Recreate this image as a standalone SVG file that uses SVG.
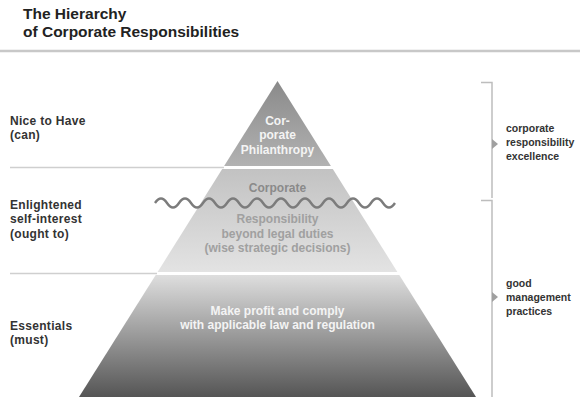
<svg xmlns="http://www.w3.org/2000/svg" width="580" height="397" viewBox="0 0 580 397">
  <defs>
    <linearGradient id="gTop" x1="0" y1="0" x2="0" y2="1">
      <stop offset="0" stop-color="#8a8a8a"/>
      <stop offset="1" stop-color="#b2b2b2"/>
    </linearGradient>
    <linearGradient id="gMid" x1="0" y1="0" x2="0" y2="1">
      <stop offset="0" stop-color="#c2c2c2"/>
      <stop offset="1" stop-color="#e3e3e3"/>
    </linearGradient>
    <linearGradient id="gBot" x1="0" y1="0" x2="0" y2="1">
      <stop offset="0" stop-color="#dedede"/>
      <stop offset="1" stop-color="#555555"/>
    </linearGradient>
  </defs>
  <style>
    text { font-family: "Liberation Sans", Arial, sans-serif; font-weight: bold; }
    .title { font-size: 15.5px; fill: #222; }
    .left { font-size: 12px; fill: #333; letter-spacing: 0.3px; }
    .right { font-size: 10.5px; fill: #333; }
    .pw { font-size: 12px; fill: #f4f4f4; text-anchor: middle; }
    .pg { font-size: 12px; fill: #a0a0a0; text-anchor: middle; }
    .pd { font-size: 12px; fill: #8a8a8a; text-anchor: middle; }
    .rule { stroke: #cfcfcf; stroke-width: 1.5; fill: none; }
    .bracket { stroke: #bdbdbd; stroke-width: 1.5; fill: none; }
    .arrow { fill: #a0a0a0; }
  </style>
  <rect width="580" height="397" fill="#ffffff"/>

  <g id="title">
    <text class="title" x="23" y="19">The Hierarchy</text>
    <text class="title" x="23" y="37">of Corporate Responsibilities</text>
    <line x1="0" y1="51" x2="580" y2="51" stroke="#c8c8c8" stroke-width="2.5"/>
  </g>

  <g id="rules">
    <line class="rule" x1="10" y1="167.5" x2="224" y2="167.5"/>
    <line class="rule" x1="10" y1="273.5" x2="157" y2="273.5"/>
  </g>

  <g id="level-top">
    <polygon points="277.5,81 330.9,166 224.1,166" fill="url(#gTop)"/>
    <text class="pw" x="277.5" y="125">Cor-</text>
    <text class="pw" x="277.5" y="139">porate</text>
    <text class="pw" x="277.5" y="154">Philanthropy</text>
  </g>

  <g id="level-middle">
    <polygon points="222.2,169 332.8,169 397.4,272 157.6,272" fill="url(#gMid)"/>
    <text class="pd" x="277.5" y="192">Corporate</text>
    <text class="pg" x="277.5" y="223">Responsibility</text>
    <text class="pg" x="277.5" y="238">beyond legal duties</text>
    <text class="pg" x="277.5" y="252">(wise strategic decisions)</text>
  </g>

  <g id="level-bottom">
    <polygon points="155.7,275 399.3,275 476,397 79,397" fill="url(#gBot)"/>
    <text class="pw" x="277.5" y="315">Make profit and comply</text>
    <text class="pw" x="277.5" y="329">with applicable law and regulation</text>
  </g>

  <g id="wave">
    <path d="M155,203 q6,-9 12,0 t12,0 t12,0 t12,0 t12,0 t12,0 t12,0 t12,0 t12,0 t12,0 t12,0 t12,0 t12,0 t12,0 t12,0 t12,0 t12,0 t12,0 t12,0 t12,0" fill="none" stroke="#7c7c7c" stroke-width="2.4"/>
  </g>

  <g id="label-nice">
    <text class="left" x="10" y="125">Nice to Have</text>
    <text class="left" x="10" y="139">(can)</text>
  </g>
  <g id="label-enlightened">
    <text class="left" x="10" y="209">Enlightened</text>
    <text class="left" x="10" y="223">self-interest</text>
    <text class="left" x="10" y="238">(ought to)</text>
  </g>
  <g id="label-essentials">
    <text class="left" x="10" y="330">Essentials</text>
    <text class="left" x="10" y="344">(must)</text>
  </g>

  <g id="connectors">
    <path class="bracket" d="M481,82.5 H492 V198"/>
    <path class="bracket" d="M481,200.5 H492 V397"/>
    <polygon class="arrow" points="492,139 498,144 492,149"/>
    <polygon class="arrow" points="492,292 498,297 492,302"/>
  </g>

  <g id="outcome-excellence">
    <text class="right" x="506" y="132">corporate</text>
    <text class="right" x="506" y="146">responsibility</text>
    <text class="right" x="506" y="160">excellence</text>
  </g>
  <g id="outcome-good">
    <text class="right" x="506" y="287">good</text>
    <text class="right" x="506" y="301">management</text>
    <text class="right" x="506" y="315">practices</text>
  </g>
</svg>
